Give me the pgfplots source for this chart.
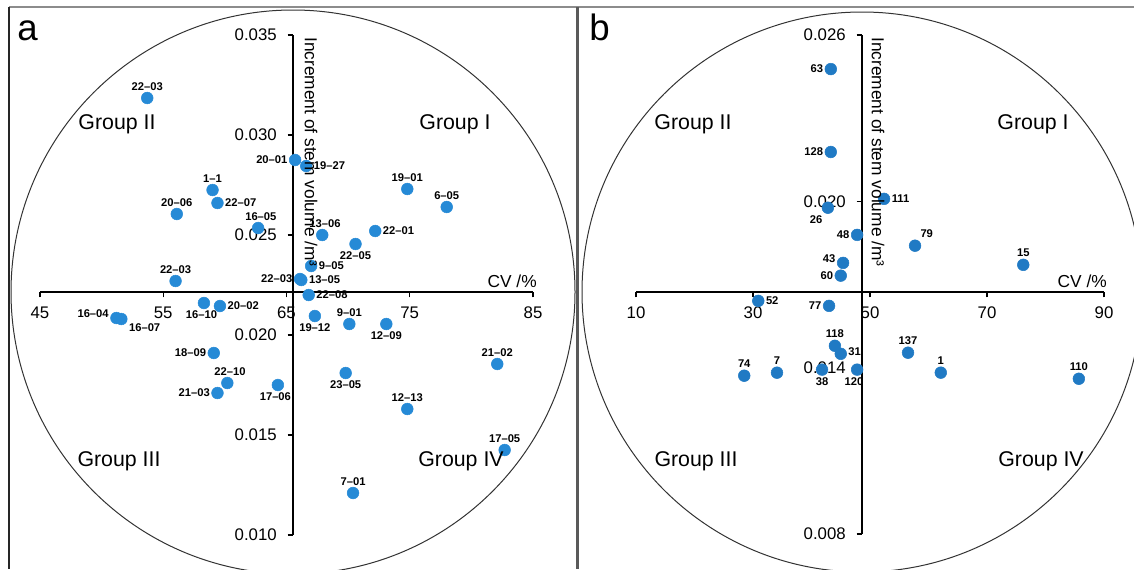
\documentclass[border=0pt]{standalone}
\usepackage{fontspec}
\setmainfont{Liberation Sans}
\usepackage{pgfplots}
\pgfplotsset{compat=1.18}

\definecolor{dotA}{RGB}{38,138,214}
\definecolor{dotB}{RGB}{32,122,196}
\definecolor{frame}{RGB}{90,90,90}

\pgfplotsset{
  panel/.style={
    scale only axis, anchor=north west, clip=false,
    axis lines=middle,
    axis line style={-, line width=0.9pt, black},
    tick style={black, line width=0.9pt},
    major tick length=4pt, tick align=outside,
    minor tick num=0,
    scaled ticks=false,
    ticklabel style={font=\fontsize{12.6}{14}\selectfont, inner sep=1pt},
    xticklabel style={yshift=-6pt},
    yticklabel style={xshift=-7pt},
  },
  lab/.style 2 args={
    only marks, mark=*, mark size=4.4pt,
    mark options={draw=#2, fill=#2},
    nodes near coords, point meta=explicit symbolic,
    every node near coord/.append style={anchor=#1,
      font=\fontsize{8.4}{9}\selectfont\bfseries, text=black,
      inner sep=1.2pt, outer sep=4.6pt},
  },
}

\begin{document}
\begin{tikzpicture}
\path[use as bounding box] (0,0) rectangle (850.5pt,-426.75pt);

\begin{scope}[x=0.75pt, y=-0.75pt]
  \draw[line width=1.5pt, black!45] (9,7) -- (1134,7);
  \draw[line width=1.1pt, black!85] (9,7) -- (9,569);
  \draw[line width=2.4pt, frame] (577.3,7) -- (577.3,569);
  \draw[line width=0.75pt, black!80] (293,292) circle[radius=211.5pt];
  \begin{scope}
    \clip (579,8) rectangle (1134,569);
    \draw[line width=0.75pt, black!80] (862,292) circle[radius=210pt];
  \end{scope}
\end{scope}

% panel a: x = CV (%), y = increment of stem volume (m^3)
\begin{axis}[panel,
  at={(30pt,-26.25pt)}, width=369.75pt, height=375pt,
  xmin=-20.53, xmax=19.47, ymin=-0.01215, ymax=0.01285,
  xtick={-20.53,-10.53,-0.53,9.47,19.47},
  xticklabels={45,55,65,75,85},
  ytick={-0.01215,-0.00715,-0.00215,0.00285,0.00785,0.01285},
  yticklabels={0.010,0.015,0.020,0.025,0.030,0.035},
  x filter/.expression={x-65.53}, y filter/.expression={y-0.02215},
]
\addplot[lab={270}{dotA}] coordinates {
 (53.7,0.03185) [22--03] (59.0,0.02725) [1--1] (56.1,0.02605) [20--06]
 (74.8,0.02730) [19--01] (78.0,0.02640) [6--05] (56.0,0.02270) [22--03]
 (70.1,0.02055) [9--01] (82.1,0.01855) [21--02] (74.8,0.01630) [12--13]
 (82.7,0.01425) [17--05] (70.4,0.01210) [7--01]};
\addplot[lab={257}{dotA}] coordinates {
 (62.7,0.02535) [16--05] (67.9,0.02500) [13--06] (60.2,0.01760) [22--10]};
\addplot[lab={0}{dotA}] coordinates {
 (65.7,0.02875) [20--01] (66.1,0.02280) [22--03] (59.1,0.01910) [18--09]
 (59.4,0.01710) [21--03]};
\addplot[lab={180}{dotA}] coordinates {
 (66.6,0.02845) [19--27] (59.4,0.02660) [22--07] (72.2,0.02520) [22--01]
 (66.2,0.02275) [13--05] (66.8,0.02200) [22--08] (59.6,0.02145) [20--02]
 (67.0,0.02345) [9--05]};
\addplot[lab={90}{dotA}] coordinates {
 (70.6,0.02455) [22--05] (67.3,0.02095) [19--12] (73.1,0.02055) [12--09]
 (69.8,0.01810) [23--05]};
\addplot[lab={78}{dotA}] coordinates {
 (58.3,0.02160) [16--10] (64.3,0.01750) [17--06]};
\addplot[lab={350}{dotA}] coordinates {(51.2,0.02085) [16--04]};
\addplot[lab={160}{dotA}] coordinates {(51.6,0.02080) [16--07]};
\end{axis}

% panel b
\begin{axis}[panel,
  at={(477pt,-26.25pt)}, width=351pt, height=374.25pt,
  xmin=-38.63, xmax=41.37, ymin=-0.00873, ymax=0.00927,
  xtick={-38.63,-18.63,1.37,21.37,41.37},
  xticklabels={10,30,50,70,90},
  ytick={-0.00873,-0.00273,0.00327,0.00927},
  yticklabels={0.008,0.014,0.020,0.026},
  x filter/.expression={x-48.63}, y filter/.expression={y-0.01673},
]
\addplot[lab={0}{dotB}] coordinates {
 (43.3,0.02477) [63] (43.3,0.02178) [128] (47.8,0.01879) [48]
 (45.0,0.01732) [60] (43.0,0.01623) [77]};
\addplot[lab={345}{dotB}] coordinates {(45.4,0.01778) [43]};
\addplot[lab={45}{dotB}] coordinates {(42.8,0.01977) [26]};
\addplot[lab={180}{dotB}] coordinates {
 (52.4,0.02009) [111] (30.9,0.01641) [52]};
\addplot[lab={190}{dotB}] coordinates {(45.0,0.01450) [31]};
\addplot[lab={225}{dotB}] coordinates {(57.7,0.01840) [79]};
\addplot[lab={270}{dotB}] coordinates {
 (76.2,0.01771) [15] (44.0,0.01479) [118] (28.5,0.01371) [74]
 (34.1,0.01382) [7] (56.5,0.01454) [137] (62.1,0.01382) [1]
 (85.7,0.01360) [110]};
\addplot[lab={90}{dotB}] coordinates {(41.8,0.01393) [38]};
\addplot[lab={75}{dotB}] coordinates {(47.8,0.01393) [120]};
\end{axis}

\begin{scope}[x=0.75pt, y=-0.75pt]
  \tikzset{grp/.style={font=\fontsize{16}{18}\selectfont, inner sep=0pt},
           axl/.style={font=\fontsize{13}{15}\selectfont, inner sep=0pt}}
  \node[anchor=base west, inner sep=0pt, font=\fontsize{27.5}{30}\selectfont] at (17,40) {a};
  \node[anchor=base west, inner sep=0pt, font=\fontsize{27.5}{30}\selectfont] at (589,40) {b};
  \node[grp] at (117,124) {Group II};
  \node[grp] at (455,124) {Group I};
  \node[grp] at (119,461) {Group III};
  \node[grp] at (461,461) {Group IV};
  \node[grp] at (693,124) {Group II};
  \node[grp] at (1033,124) {Group I};
  \node[grp] at (696,461) {Group III};
  \node[grp] at (1041,461) {Group IV};
  \node[axl, anchor=base east] at (537,287) {CV /\%};
  \node[axl, anchor=base east] at (1107,287) {CV /\%};
  \node[axl, rotate=-90, anchor=west] at (311,37) {Increment of stem volume /m³};
  \node[axl, rotate=-90, anchor=west] at (878,37) {Increment of stem volume /m³};
\end{scope}
\end{tikzpicture}
\end{document}
